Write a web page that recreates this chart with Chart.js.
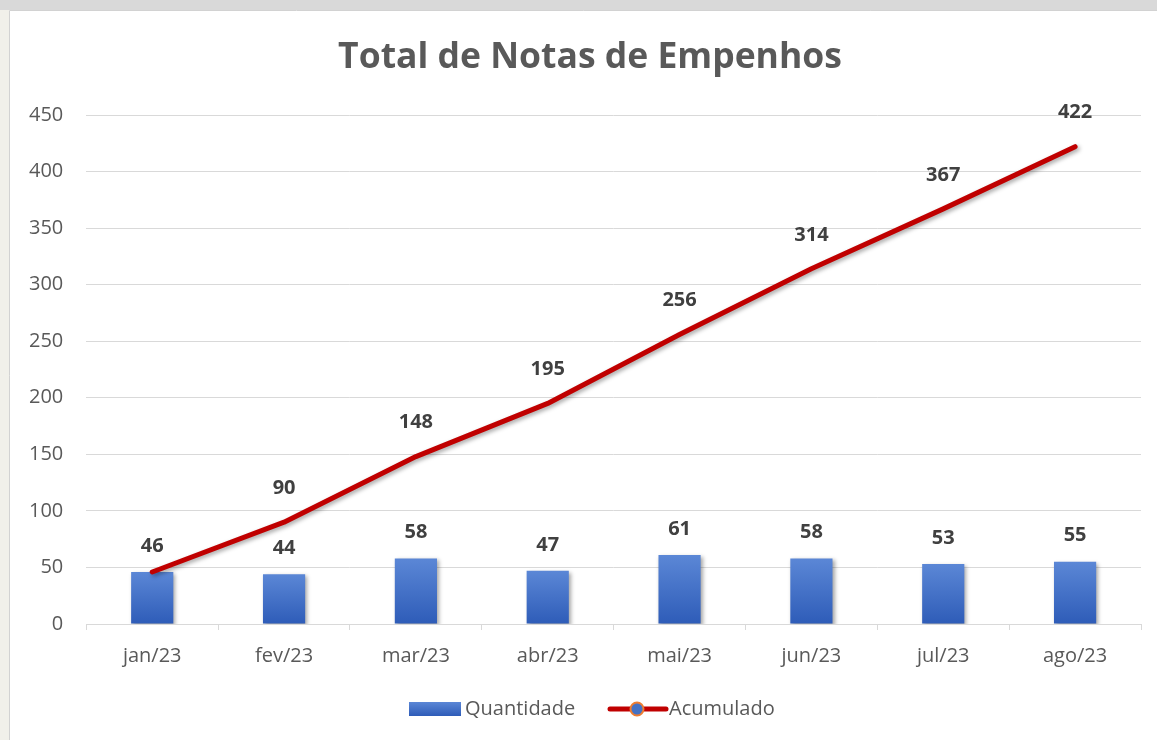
<!DOCTYPE html>
<html>
<head>
<meta charset="utf-8">
<script src="https://cdn.jsdelivr.net/npm/chart.js@4"></script>
<style>
  html, body { margin: 0; padding: 0; background: #ffffff; }
  #wrap { position: relative; width: 1157px; height: 740px; }
</style>
</head>
<body>
<div id="wrap"><canvas id="chart" width="1157" height="740"></canvas></div>
<script>
const months = ['jan/23', 'fev/23', 'mar/23', 'abr/23', 'mai/23', 'jun/23', 'jul/23', 'ago/23'];
const quantidade = [46, 44, 58, 47, 61, 58, 53, 55];
const acumulado = [46, 90, 148, 195, 256, 314, 367, 422];

const labelColor = '#595959';
const gridColor = '#d9d9d9';

// page frame: grey band on top, pale band on the left, white panel
const framePlugin = {
  id: 'frame',
  beforeDraw(chart) {
    const c = chart.ctx;
    c.save();
    c.fillStyle = '#ffffff';
    c.fillRect(0, 0, chart.width, chart.height);
    c.fillStyle = '#f1f0ea';
    c.fillRect(0, 0, 9, chart.height);
    c.fillStyle = '#d9d9d9';
    c.fillRect(0, 0, chart.width, 10);
    c.strokeStyle = '#d2d2d2';
    c.lineWidth = 1;
    c.beginPath();
    c.moveTo(9.5, chart.height);
    c.lineTo(9.5, 10.5);
    c.lineTo(chart.width, 10.5);
    c.stroke();
    // title (centred on the whole panel, which runs past the right edge)
    c.font = 'bold 35.5px "Open Sans"';
    c.fillStyle = labelColor;
    c.textAlign = 'center';
    c.textBaseline = 'middle';
    c.fillText('Total de Notas de Empenhos', 590, 58);
    c.restore();
  }
};

// soft drop shadow for bars and the line
const shadowPlugin = {
  id: 'shadow',
  beforeDatasetDraw(chart) {
    const c = chart.ctx;
    c.save();
    c.shadowColor = 'rgba(0,0,0,0.35)';
    c.shadowBlur = 4;
    c.shadowOffsetX = 2;
    c.shadowOffsetY = 2;
  },
  afterDatasetDraw(chart) {
    chart.ctx.restore();
  }
};

// value labels
const valueLabels = {
  id: 'valueLabels',
  afterDatasetsDraw(chart) {
    const c = chart.ctx;
    c.save();
    c.font = 'bold 20px "Open Sans"';
    c.fillStyle = '#404040';
    c.textAlign = 'center';
    c.textBaseline = 'middle';
    const barMeta = chart.getDatasetMeta(0);
    const lineMeta = chart.getDatasetMeta(1);
    barMeta.data.forEach((bar, i) => {
      c.fillText(quantidade[i], bar.x, bar.y - 26);
    });
    lineMeta.data.forEach((pt, i) => {
      const y = pt.y - 34;
      const barY = barMeta.data[i].y - 26;
      if (Math.abs(y - barY) < 14) return;
      c.fillText(acumulado[i], pt.x, y);
    });
    c.restore();
  }
};

// legend drawn by hand (line entry has a marker in the middle)
const legendPlugin = {
  id: 'customLegend',
  afterDraw(chart) {
    const c = chart.ctx;
    const y = 709;
    c.save();
    const g = c.createLinearGradient(0, 702, 0, 716);
    g.addColorStop(0, '#5b87d6');
    g.addColorStop(1, '#2e5cb8');
    c.fillStyle = g;
    c.fillRect(409, 702, 52, 14);
    c.font = '20px "Open Sans"';
    c.fillStyle = labelColor;
    c.textBaseline = 'middle';
    c.fillText('Quantidade', 465, y);

    c.strokeStyle = '#c00000';
    c.lineWidth = 5;
    c.lineCap = 'round';
    c.beginPath();
    c.moveTo(610, y);
    c.lineTo(666, y);
    c.stroke();
    c.beginPath();
    c.arc(637, y, 6.5, 0, Math.PI * 2);
    c.fillStyle = '#4472c4';
    c.fill();
    c.lineWidth = 2;
    c.strokeStyle = '#ed7d31';
    c.stroke();
    c.fillStyle = labelColor;
    c.fillText('Acumulado', 669, y);
    c.restore();
  }
};

function barGradient(ctx) {
  const chart = ctx.chart;
  const y = chart.scales && chart.scales.y;
  if (!chart.chartArea || !y || ctx.type !== 'data') return '#4472c4';
  const top = y.getPixelForValue(ctx.raw);
  const bottom = y.getPixelForValue(0);
  if (!isFinite(top) || !isFinite(bottom) || top === bottom) return '#4472c4';
  const g = chart.ctx.createLinearGradient(0, top, 0, bottom);
  g.addColorStop(0, '#5b87d6');
  g.addColorStop(1, '#2e5cb8');
  return g;
}

new Chart(document.getElementById('chart'), {
  data: {
    labels: months,
    datasets: [
      {
        type: 'bar',
        label: 'Quantidade',
        data: quantidade,
        backgroundColor: barGradient,
        barPercentage: 0.32,
        categoryPercentage: 1,
        order: 1
      },
      {
        type: 'line',
        label: 'Acumulado',
        data: acumulado,
        borderColor: '#c00000',
        borderWidth: 5,
        borderCapStyle: 'round',
        borderJoinStyle: 'round',
        pointRadius: 0,
        tension: 0,
        order: 0
      }
    ]
  },
  options: {
    responsive: false,
    animation: false,
    layout: { padding: { left: 6, right: 16, top: 115, bottom: 58 } },
    plugins: {
      legend: { display: false },
      tooltip: { enabled: false },
      title: { display: false }
    },
    scales: {
      x: {
        offset: true,
        grid: {
          offset: true,
          drawOnChartArea: false,
          drawTicks: true,
          tickLength: 6,
          color: gridColor
        },
        border: { display: true, color: gridColor, width: 1 },
        ticks: {
          color: labelColor,
          font: { family: '"Open Sans"', size: 20 },
          padding: 14,
          maxRotation: 0
        }
      },
      y: {
        min: 0,
        max: 450,
        ticks: {
          stepSize: 50,
          color: labelColor,
          font: { family: '"Open Sans"', size: 20 },
          padding: 23
        },
        grid: { color: gridColor, drawTicks: false },
        border: { display: false }
      }
    }
  },
  plugins: [framePlugin, shadowPlugin, valueLabels, legendPlugin]
});
</script>
</body>
</html>
